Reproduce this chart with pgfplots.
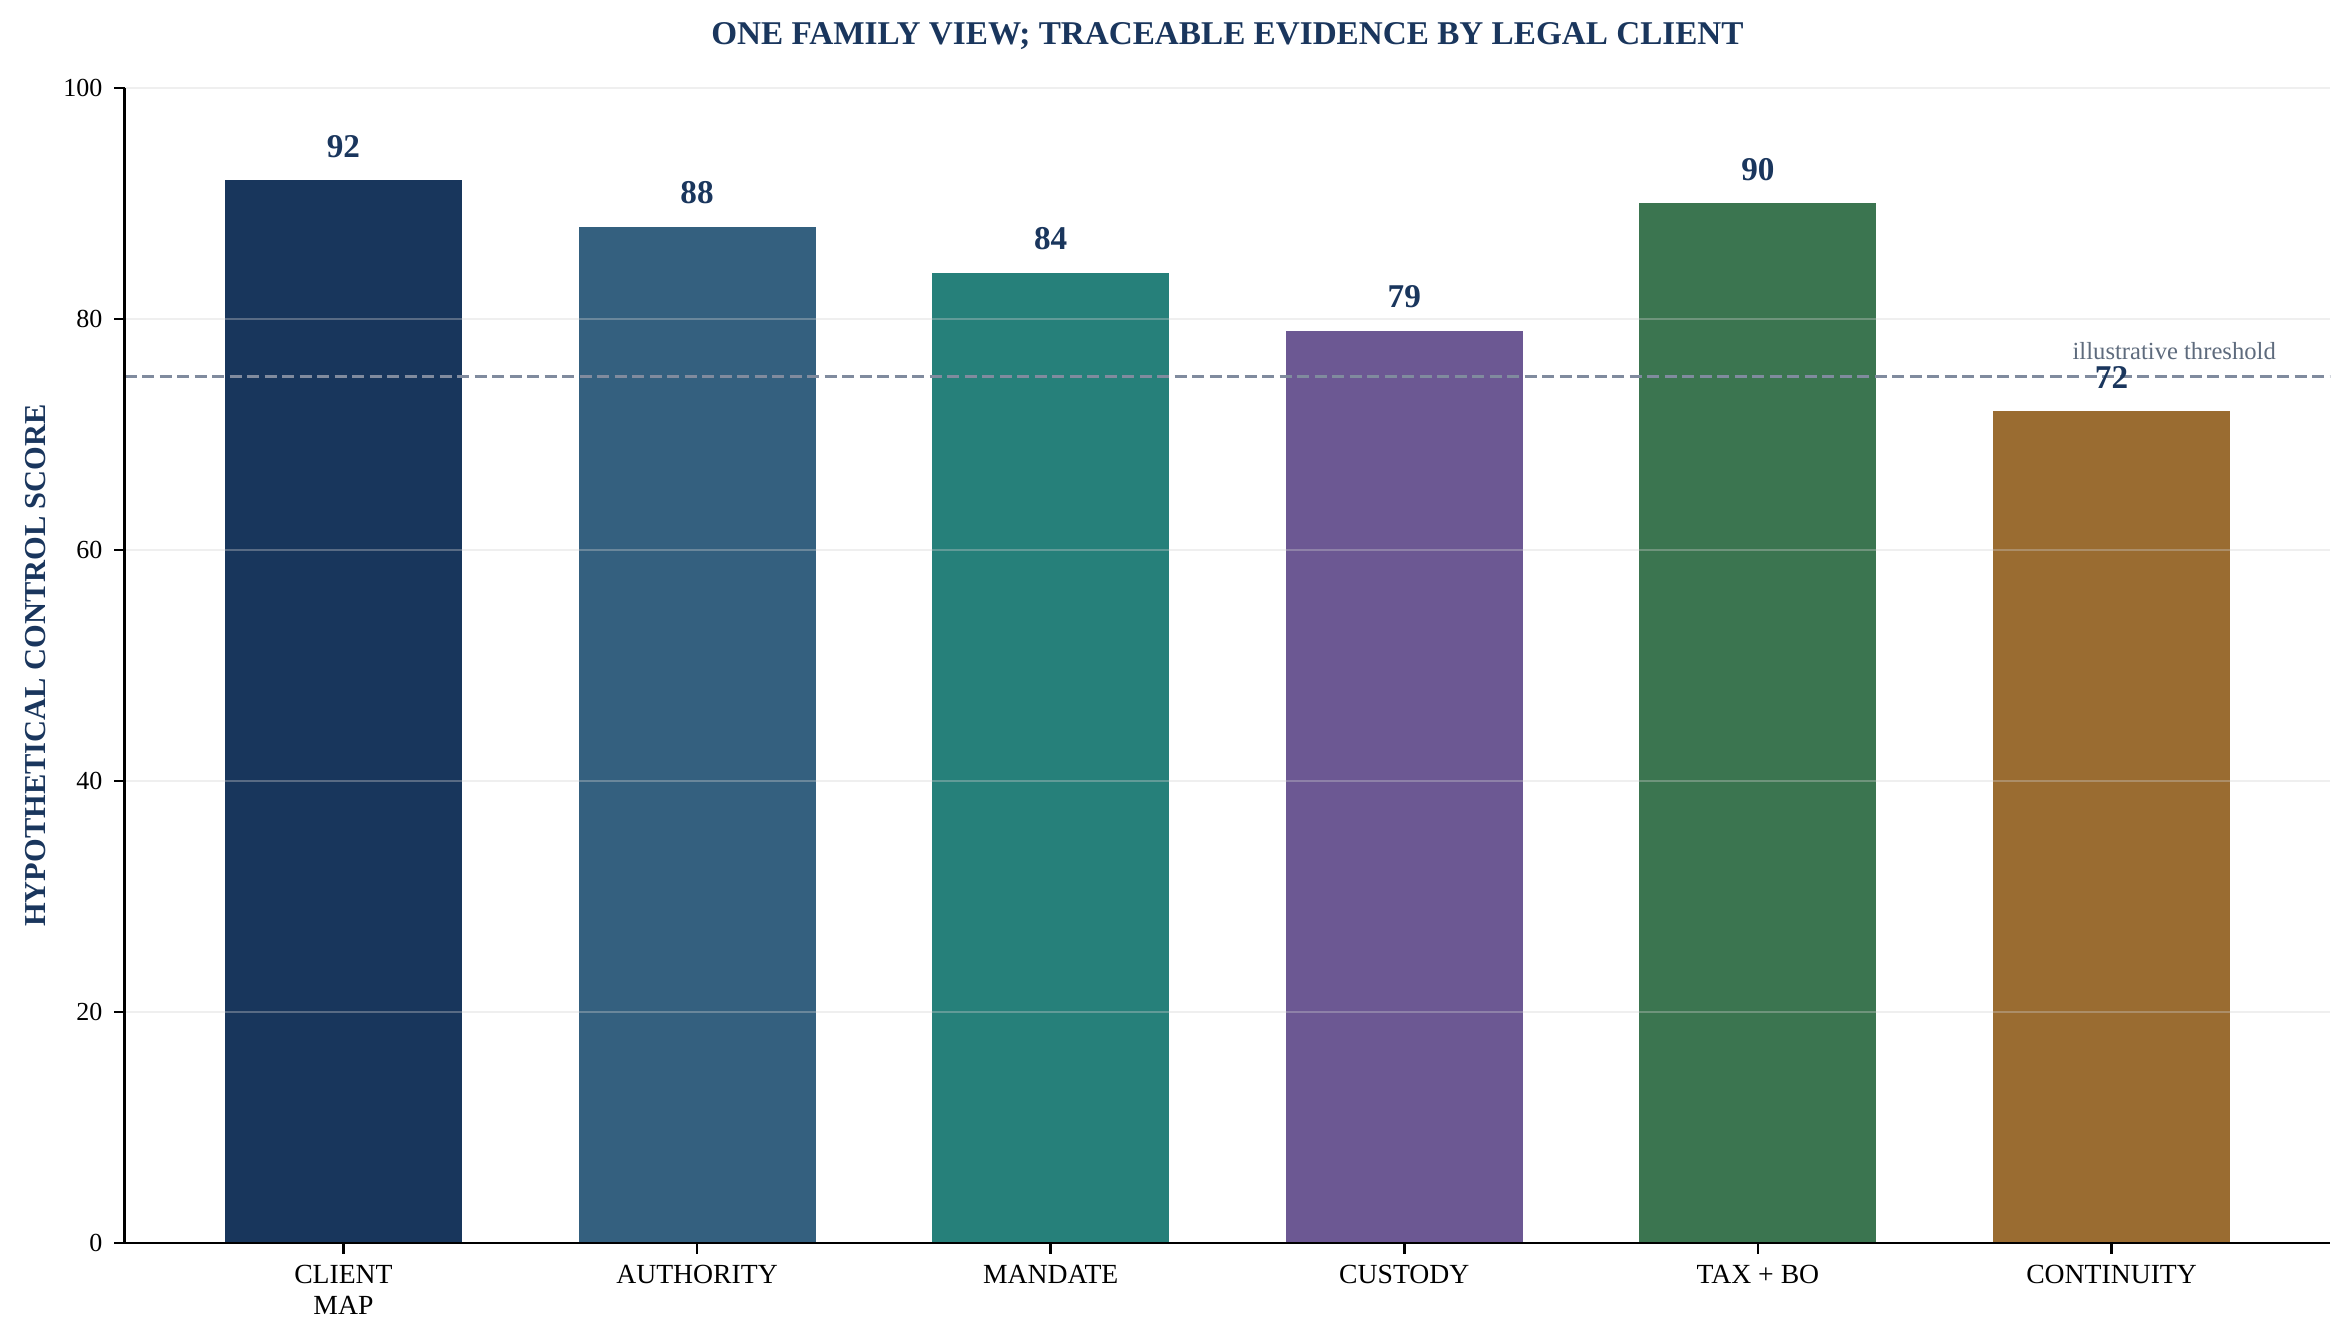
\documentclass[border=0pt]{standalone}
\usepackage{fontspec}
\setmainfont{Liberation Serif}
\usepackage{pgfplots}
\pgfplotsset{compat=1.18}
\definecolor{navy}{RGB}{26,54,93}
\definecolor{cA}{RGB}{24,54,92}
\definecolor{cB}{RGB}{52,96,127}
\definecolor{cC}{RGB}{38,128,122}
\definecolor{cD}{RGB}{108,88,147}
\definecolor{cE}{RGB}{59,117,80}
\definecolor{cF}{RGB}{154,108,49}
\definecolor{thr}{RGB}{128,139,158}
\definecolor{thrtext}{RGB}{94,107,125}
\definecolor{gridc}{RGB}{208,208,208}
\begin{document}
\begin{tikzpicture}
\begin{axis}[
  at={(44.9bp,35.64bp)}, anchor=south west,
  scale only axis, width=794bp, height=415.8bp,
  xmin=-0.6185, xmax=5.6185, ymin=0, ymax=100,
  axis lines*=left,
  axis line style={line width=1bp, black},
  axis on top,
  xtick={0,1,2,3,4,5},
  xticklabels={{CLIENT\\MAP},AUTHORITY,MANDATE,CUSTODY,TAX + BO,CONTINUITY},
  ytick={0,20,40,60,80,100},
  tick align=outside, major tick length=3.8bp,
  tick style={line width=0.9bp, black},
  /pgf/number format/assume math mode=true,
  xticklabel style={font=\fontsize{10}{11.2}\selectfont, align=center, inner sep=0pt, yshift=-4bp},
  yticklabel style={font=\fontsize{9.4}{10}\selectfont, inner sep=0pt, xshift=-4bp},
  ymajorgrids, xmajorgrids=false,
  major grid style={draw=gridc, opacity=0.35, line width=0.8bp},
  every axis title shift=0pt,
  title={ONE FAMILY VIEW; TRACEABLE EVIDENCE BY LEGAL CLIENT},
  title style={at={(axis description cs:0.5,1)}, anchor=base, yshift=15.7bp, inner sep=0pt,
    font=\fontsize{12}{14}\selectfont\bfseries, color=navy},
  ylabel={HYPOTHETICAL CONTROL SCORE},
  ylabel style={at={(axis description cs:-0.0402,0.5)}, anchor=center, inner sep=0pt,
    font=\fontsize{11}{13}\selectfont\bfseries, color=navy},
  nodes near coords,
  nodes near coords style={anchor=base, yshift=8.3bp, inner sep=0pt,
    font=\fontsize{12}{14}\selectfont\bfseries, color=navy},
]
\addplot[ybar, bar width=0.67, fill=cA, draw=none] coordinates {(0,92)};
\addplot[ybar, bar width=0.67, fill=cB, draw=none] coordinates {(1,88)};
\addplot[ybar, bar width=0.67, fill=cC, draw=none] coordinates {(2,84)};
\addplot[ybar, bar width=0.67, fill=cD, draw=none] coordinates {(3,79)};
\addplot[ybar, bar width=0.67, fill=cE, draw=none] coordinates {(4,90)};
\addplot[ybar, bar width=0.67, fill=cF, draw=none] coordinates {(5,72)};
\addplot[thr, line width=1.2bp, dash pattern=on 4.4bp off 1.9bp, forget plot, nodes near coords={}]
  coordinates {(-0.6185,75) (5.6185,75)};
\node[anchor=base east, inner sep=0pt, text=thrtext, font=\fontsize{8.9}{10}\selectfont]
  at (axis cs:5.466,76.45) {illustrative threshold};
\end{axis}
\pgfresetboundingbox
\path[use as bounding box] (0,0) rectangle (846.72bp,483.12bp);
\end{tikzpicture}
\end{document}
